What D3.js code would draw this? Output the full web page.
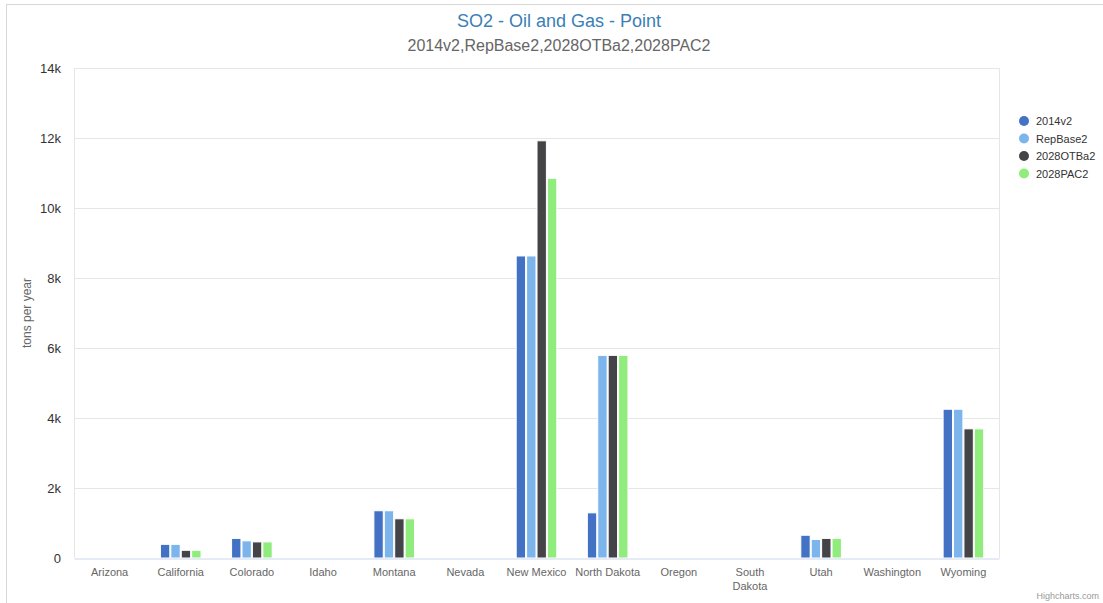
<!DOCTYPE html>
<html>
<head>
<meta charset="utf-8">
<script src="https://cdn.jsdelivr.net/npm/d3@7"></script>
<style>
  body { margin: 0; background: #fff; }
  text { font-family: "Liberation Sans", Arial, sans-serif; }
</style>
</head>
<body>
<div id="chart"></div>
<script>
'use strict'

// data (tons per year)
const states = ["Arizona", "California", "Colorado", "Idaho", "Montana", "Nevada",
  "New Mexico", "North Dakota", "Oregon", "South Dakota", "Utah", "Washington", "Wyoming"]
const seriesNames = ["2014v2", "RepBase2", "2028OTBa2", "2028PAC2"]
const v2014 = [0, 390, 560, 0, 1350, 0, 8630, 1290, 0, 0, 650, 0, 4250]
const vRepBase = [0, 390, 490, 0, 1350, 0, 8630, 5790, 0, 0, 530, 0, 4250]
const vOTBa = [0, 220, 460, 0, 1120, 0, 11920, 5790, 0, 0, 560, 0, 3690]
const vPAC = [0, 220, 460, 0, 1120, 0, 10850, 5790, 0, 0, 560, 0, 3690]
const yTicks = [0, 2000, 4000, 6000, 8000, 10000, 12000, 14000]
const yTickLabels = ["0", "2k", "4k", "6k", "8k", "10k", "12k", "14k"]
const colors = ["#4372c4", "#7cb5ec", "#434348", "#90ed7d"]

const allSeries = [v2014, vRepBase, vOTBa, vPAC]

let width = 1103
let height = 603
let margin = { top: 68, right: 104, bottom: 45, left: 74 }
let plotW = width - margin.left - margin.right
let plotH = height - margin.top - margin.bottom

let svg = d3.select("#chart").append("svg")
  .attr("width", width)
  .attr("height", height)

// outer chart border (cropped on right / bottom)
svg.append("rect")
  .attr("x", 6.5).attr("y", 4.5)
  .attr("width", width + 20).attr("height", height + 20)
  .attr("fill", "none")
  .attr("stroke", "#d8d8d8")

let x0 = d3.scaleBand()
  .domain(states)
  .range([margin.left, margin.left + plotW])
  .paddingInner(0).paddingOuter(0)

let x1 = d3.scaleBand()
  .domain(seriesNames)
  .range([0, x0.bandwidth() * 0.6])
  .padding(0.1)

let y = d3.scaleLinear()
  .domain([0, 14000])
  .range([margin.top + plotH, margin.top])

// grid lines
svg.append("g")
  .selectAll("line")
  .data(yTicks.slice(1))
  .enter().append("line")
  .attr("x1", margin.left).attr("x2", margin.left + plotW)
  .attr("y1", d => Math.round(y(d)) + 0.5).attr("y2", d => Math.round(y(d)) + 0.5)
  .attr("stroke", "#e6e6e6")

// plot border sides
svg.append("line")
  .attr("x1", margin.left + 0.5).attr("x2", margin.left + 0.5)
  .attr("y1", margin.top).attr("y2", margin.top + plotH)
  .attr("stroke", "#e6e6e6")
svg.append("line")
  .attr("x1", margin.left + plotW + 0.5).attr("x2", margin.left + plotW + 0.5)
  .attr("y1", margin.top).attr("y2", margin.top + plotH)
  .attr("stroke", "#e6e6e6")

// y axis labels
let yAxis = d3.axisLeft(y)
  .tickValues(yTicks)
  .tickFormat((d, i) => yTickLabels[i])
  .tickSize(0)
  .tickPadding(13)

let gy = svg.append("g")
  .attr("transform", "translate(" + margin.left + ",0)")
  .call(yAxis)
gy.select(".domain").remove()
gy.selectAll("text")
  .attr("fill", "#333")
  .style("font-size", "13px")
  .attr("font-family", "Liberation Sans, Arial, sans-serif")

svg.append("text")
  .attr("transform", "translate(31," + (margin.top + plotH / 2) + ") rotate(-90)")
  .attr("text-anchor", "middle")
  .attr("fill", "#666")
  .style("font-size", "12px")
  .text("tons per year")

// bars
let groups = svg.append("g")
  .selectAll("g")
  .data(states)
  .enter().append("g")
  .attr("transform", d => "translate(" + (x0(d) + x0.bandwidth() * 0.2) + ",0)")

groups.selectAll("rect")
  .data((d, i) => seriesNames.map((s, j) => ({ s: s, j: j, v: allSeries[j][i] })))
  .enter().append("rect")
  .filter(d => d.v > 0)
  .attr("x", d => x1(d.s))
  .attr("y", d => y(d.v))
  .attr("width", x1.bandwidth())
  .attr("height", d => y(0) - y(d.v))
  .attr("fill", d => colors[d.j])
  .attr("stroke", "#fff")
  .attr("stroke-width", 1)

// x axis
let xAxis = d3.axisBottom(x0).tickSize(0).tickPadding(10)
let gx = svg.append("g")
  .attr("transform", "translate(0," + (margin.top + plotH) + ")")
  .call(xAxis)
gx.select(".domain")
  .attr("stroke", "#ccd6eb")
  .attr("transform", "translate(0,0.5)")
gx.selectAll("text")
  .attr("fill", "#666")
  .style("font-size", "11px")
  .attr("font-family", "Liberation Sans, Arial, sans-serif")
  .each(function (d) {
    let words = d.split(" ")
    let t = d3.select(this)
    if (d.length > 12 || (d === "South Dakota")) {
      t.text("")
      words.forEach((w, k) => {
        t.append("tspan").attr("x", 0).attr("dy", k === 0 ? "0.71em" : "1.3em").text(w)
      })
    }
  })

// titles
let cx = 559
svg.append("text")
  .attr("x", cx).attr("y", 27)
  .attr("text-anchor", "middle")
  .attr("fill", "#3a80b6")
  .style("font-size", "18px")
  .text("SO2 - Oil and Gas - Point")

svg.append("text")
  .attr("x", cx).attr("y", 51)
  .attr("text-anchor", "middle")
  .attr("fill", "#666")
  .style("font-size", "16px")
  .text("2014v2,RepBase2,2028OTBa2,2028PAC2")

// legend
let legend = svg.append("g")
  .selectAll("g")
  .data(seriesNames)
  .enter().append("g")
  .attr("transform", (d, i) => "translate(1024," + (121 + i * 17.5) + ")")

legend.append("circle")
  .attr("r", 5)
  .attr("fill", (d, i) => colors[i])

legend.append("text")
  .attr("x", 12)
  .attr("y", 4)
  .attr("fill", "#333")
  .style("font-size", "11px")
  .text(d => d)

// credits
svg.append("text")
  .attr("x", 1099).attr("y", 599)
  .attr("text-anchor", "end")
  .attr("fill", "#999")
  .style("font-size", "9px")
  .text("Highcharts.com")
</script>
</body>
</html>
